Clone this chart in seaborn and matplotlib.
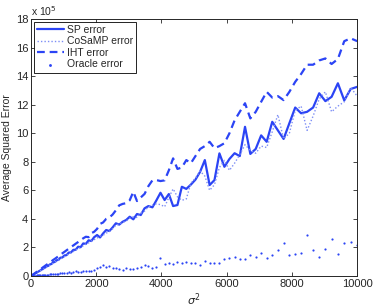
import numpy as np
import pandas as pd
import matplotlib
matplotlib.use("Agg")
import matplotlib.pyplot as plt
import seaborn as sns

# noise level sigma = 1..100, plotted against sigma^2
sigma = np.arange(1, 101)
sigma_sq = sigma ** 2

# average squared error, in units of 1e5
sp_err = [0.00, 0.01, 0.01, 0.02, 0.04, 0.05, 0.06, 0.09, 0.12, 0.13,
          0.17, 0.21, 0.22, 0.28, 0.30, 0.36, 0.39, 0.46, 0.48, 0.57,
          0.60, 0.69, 0.71, 0.81, 0.84, 0.96, 0.98, 1.10, 1.13, 1.28,
          1.30, 1.44, 1.46, 1.64, 1.65, 1.83, 1.84, 2.05, 2.02, 2.28,
          2.25, 2.50, 2.45, 2.72, 2.87, 2.70, 2.98, 3.22, 3.15, 3.40,
          3.69, 3.60, 3.80, 3.92, 4.15, 3.97, 4.34, 4.27, 4.74, 4.90,
          4.81, 5.30, 5.83, 5.32, 5.74, 4.90, 4.97, 6.25, 6.10, 6.40,
          6.75, 7.30, 8.12, 6.37, 6.72, 8.59, 7.65, 8.20, 8.60, 8.40,
          10.45, 8.55, 8.90, 9.85, 9.40, 10.80, 10.20, 9.60, 10.70, 11.80,
          11.40, 11.50, 11.80, 12.80, 12.25, 12.55, 13.50, 12.30, 13.10, 13.25]

cosamp_err = [0.00, 0.01, 0.01, 0.02, 0.03, 0.05, 0.07, 0.08, 0.11, 0.13,
              0.16, 0.19, 0.23, 0.26, 0.29, 0.34, 0.38, 0.43, 0.48, 0.53,
              0.58, 0.64, 0.70, 0.75, 0.83, 0.88, 0.97, 1.03, 1.12, 1.18,
              1.28, 1.35, 1.45, 1.52, 1.63, 1.71, 1.82, 1.90, 2.02, 2.10,
              2.24, 2.32, 2.45, 2.55, 2.66, 2.78, 2.85, 3.00, 3.12, 3.30,
              3.55, 3.65, 3.75, 3.85, 4.05, 4.15, 4.10, 4.40, 4.55, 4.85,
              4.95, 5.05, 5.00, 4.85, 5.50, 6.10, 5.55, 5.30, 5.40, 6.50,
              6.85, 7.35, 7.00, 6.00, 6.40, 7.60, 8.10, 7.40, 7.90, 8.50,
              9.20, 8.80, 8.60, 9.10, 9.00, 10.10, 11.30, 9.60, 10.00, 11.60,
              11.90, 10.20, 11.20, 12.40, 12.90, 11.50, 11.90, 12.20, 13.20, 12.60]

iht_err = [0.00, 0.01, 0.01, 0.03, 0.04, 0.06, 0.08, 0.11, 0.13, 0.17,
           0.20, 0.24, 0.28, 0.32, 0.37, 0.42, 0.48, 0.53, 0.60, 0.66,
           0.73, 0.80, 0.87, 0.95, 1.03, 1.12, 1.20, 1.29, 1.39, 1.49,
           1.59, 1.69, 1.80, 1.91, 2.02, 2.14, 2.26, 2.38, 2.51, 2.64,
           2.75, 2.72, 3.00, 3.10, 3.30, 3.65, 3.75, 4.00, 4.10, 4.30,
           4.60, 4.95, 5.05, 5.10, 5.30, 5.90, 5.25, 5.50, 5.75, 6.30,
           6.70, 6.72, 6.65, 6.70, 7.40, 8.24, 7.50, 7.60, 8.12, 7.90,
           8.40, 8.90, 9.10, 9.40, 8.95, 9.10, 9.30, 10.00, 10.90, 11.50,
           12.10, 11.04, 11.50, 12.20, 12.90, 12.50, 12.60, 12.32, 12.90, 13.60,
           14.15, 14.80, 14.80, 15.10, 15.24, 14.85, 15.20, 16.45, 16.65, 16.45]

oracle_err = [0.00, 0.00, 0.00, 0.00, 0.01, 0.01, 0.01, 0.01, 0.02, 0.02,
              0.02, 0.03, 0.03, 0.04, 0.04, 0.05, 0.05, 0.06, 0.07, 0.07,
              0.08, 0.09, 0.10, 0.12, 0.11, 0.14, 0.13, 0.16, 0.15, 0.18,
              0.20, 0.19, 0.22, 0.30, 0.24, 0.28, 0.33, 0.30, 0.31, 0.36,
              0.34, 0.38, 0.35, 0.45, 0.55, 0.60, 0.77, 0.65, 0.72, 0.58,
              0.55, 0.50, 0.45, 0.55, 0.48, 0.49, 0.56, 0.63, 0.79, 0.70,
              0.58, 0.63, 1.24, 0.84, 0.93, 0.82, 0.96, 0.89, 0.96, 0.91,
              0.91, 0.79, 1.03, 0.93, 0.89, 0.93, 1.21, 1.28, 1.31, 1.19,
              1.21, 1.49, 1.35, 1.59, 1.28, 1.45, 1.84, 2.31, 1.49, 1.56,
              1.63, 2.87, 1.80, 1.35, 1.87, 2.61, 1.56, 2.33, 2.36, 2.20]

df = pd.DataFrame({"s2": sigma_sq, "SP": sp_err, "CoSaMP": cosamp_err,
                   "IHT": iht_err, "Oracle": oracle_err})

sns.set_style("ticks")
plt.rcParams["font.family"] = ["Liberation Sans", "DejaVu Sans"]
plt.rcParams["xtick.direction"] = "in"
plt.rcParams["ytick.direction"] = "in"

blue = "#2b44f5"
fig = plt.figure(figsize=(3.74, 3.07), dpi=100)
ax = fig.add_axes([0.083, 0.101, 0.872, 0.837])

sns.lineplot(data=df, x="s2", y="SP", ax=ax, color=blue, lw=1.6, label="SP error")
sns.lineplot(data=df, x="s2", y="CoSaMP", ax=ax, color="#7d8ef5", lw=1.0,
             ls=(0, (1, 1.5)), label="CoSaMP error")
sns.lineplot(data=df, x="s2", y="IHT", ax=ax, color=blue, lw=1.6,
             ls=(0, (3.5, 2.2)), label="IHT error")
sns.scatterplot(data=df, x="s2", y="Oracle", ax=ax, color=blue, marker=".",
                s=10, linewidth=0, label="Oracle error")

ax.set_xlim(0, 10000)
ax.set_ylim(0, 18)
ax.set_xticks(range(0, 10001, 2000))
ax.set_yticks(range(0, 19, 2))
ax.tick_params(labelsize=8, length=3, width=0.6, top=True, right=True, pad=2)
for sp in ax.spines.values():
    sp.set_linewidth(0.7)
    sp.set_visible(True)

ax.set_xlabel(r"$\sigma^2$", fontsize=8, labelpad=2)
ax.set_ylabel("Average Squared Error", fontsize=7.5, labelpad=3)
ax.text(0.0, 1.005, r"x 10$^5$", transform=ax.transAxes, fontsize=7.5,
        ha="left", va="bottom")

leg = ax.legend(loc="upper left", fontsize=7.5, fancybox=False, framealpha=1,
                edgecolor="black", borderpad=0.3, labelspacing=0.15,
                handlelength=2.6, handletextpad=0.3, borderaxespad=0.25,
                markerscale=1.3)
leg.get_frame().set_linewidth(0.6)

fig.savefig("out.png", dpi=100)
